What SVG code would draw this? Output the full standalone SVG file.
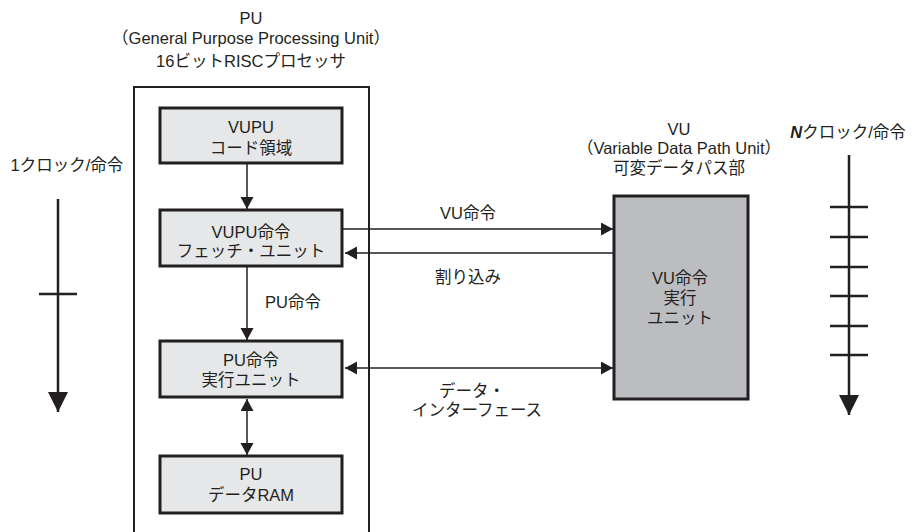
<svg xmlns="http://www.w3.org/2000/svg" width="917" height="532" viewBox="0 0 917 532">
<style>
text{font-family:"Liberation Sans","Noto Sans CJK JP",sans-serif;font-size:16.5px;fill:#231f20;text-anchor:middle}
.box{fill:#e6e7e8;stroke:#231f20;stroke-width:3}
.vu{fill:#bcbdc0;stroke:#231f20;stroke-width:3}
.outer{fill:none;stroke:#231f20;stroke-width:2}
.c{stroke:#231f20;stroke-width:1.5;fill:none}
.t{stroke:#231f20;stroke-width:2.5;fill:none}
</style>
<defs>
<marker id="a" markerUnits="userSpaceOnUse" markerWidth="14" markerHeight="14" refX="12" refY="6.5" orient="auto-start-reverse"><path d="M0,0L12,6.5L0,13z" fill="#231f20"/></marker>
<marker id="b" markerUnits="userSpaceOnUse" markerWidth="22" markerHeight="22" refX="20" refY="10" orient="auto"><path d="M0,0L20,10L0,20z" fill="#231f20"/></marker>
</defs>
<g id="pu-title">
<text x="251" y="24">PU</text>
<text x="251" y="44">（General Purpose Processing Unit）</text>
<text x="251" y="67">16ビットRISCプロセッサ</text>
</g>
<g id="pu-outer"><rect class="outer" x="134" y="87" width="235" height="460"/></g>
<g id="vupu-code"><rect class="box" x="160" y="108" width="182" height="55"/>
<text x="251" y="133">VUPU</text><text x="251" y="154">コード領域</text></g>
<g id="fetch"><rect class="box" x="160" y="210" width="182" height="56"/>
<text x="251" y="238">VUPU命令</text><text x="251" y="257">フェッチ・ユニット</text></g>
<g id="exec"><rect class="box" x="160" y="341" width="182" height="56"/>
<text x="251" y="366">PU命令</text><text x="251" y="386">実行ユニット</text></g>
<g id="ram"><rect class="box" x="160" y="456" width="182" height="57"/>
<text x="251" y="480">PU</text><text x="251" y="501">データRAM</text></g>
<g id="vu-title">
<text x="679" y="135">VU</text>
<text x="679" y="154">（Variable Data Path Unit）</text>
<text x="679" y="174">可変データパス部</text>
</g>
<g id="vu"><rect class="vu" x="614" y="196" width="134" height="203"/>
<text x="680" y="284">VU命令</text><text x="680" y="304">実行</text><text x="680" y="324">ユニット</text></g>
<g id="clock1">
<text x="67" y="171">1クロック/命令</text>
<line class="t" x1="58" y1="199" x2="58" y2="412" marker-end="url(#b)"/>
<line class="t" x1="39" y1="294" x2="77" y2="294"/>
</g>
<g id="clockN">
<text x="848" y="138"><tspan font-style="italic" font-weight="bold">N</tspan>クロック/命令</text>
<line class="t" x1="849" y1="155" x2="849" y2="415" marker-end="url(#b)"/>
<path class="t" d="M830,207H868M830,237H868M830,267H868M830,296H868M830,326H868M830,355H868"/>
</g>
<g id="connectors">
<line class="c" x1="247" y1="163" x2="247" y2="209" marker-end="url(#a)"/>
<line class="c" x1="247" y1="266" x2="247" y2="340" marker-end="url(#a)"/>
<line class="c" x1="247" y1="399" x2="247" y2="455" marker-start="url(#a)" marker-end="url(#a)"/>
<line class="c" x1="342" y1="229" x2="613" y2="229" marker-end="url(#a)"/>
<line class="c" x1="614" y1="253" x2="345" y2="253" marker-end="url(#a)"/>
<line class="c" x1="345" y1="368" x2="613" y2="368" marker-start="url(#a)" marker-end="url(#a)"/>
<text x="293" y="308">PU命令</text>
<text x="468" y="219">VU命令</text>
<text x="468" y="283">割り込み</text>
<text x="472" y="397">データ・</text>
<text x="477" y="416">インターフェース</text>
</g>
</svg>
